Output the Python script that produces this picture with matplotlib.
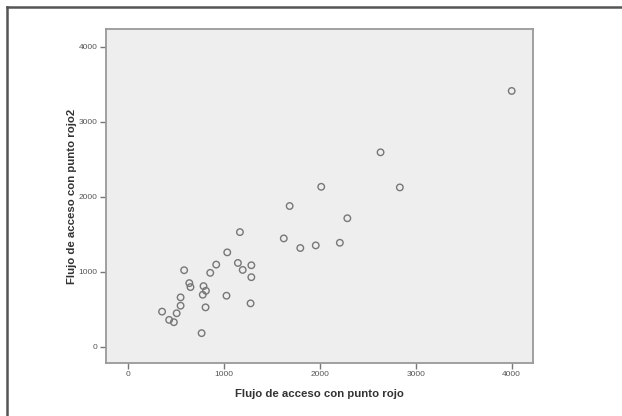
import matplotlib
matplotlib.use("Agg")
import matplotlib.pyplot as plt
from matplotlib.lines import Line2D

# values
flujo_rojo = [4000, 2634, 2016, 2835, 1687, 2288, 1626, 1798, 1959, 2210,
              1169, 1037, 922, 1148, 1288, 1198, 1288, 860, 588, 642,
              654, 790, 815, 782, 1029, 1280, 551, 551, 811, 358,
              510, 432, 481, 770]
flujo_rojo2 = [3410, 2592, 2132, 2124, 1876, 1713, 1444, 1316, 1351, 1386,
               1528, 1258, 1095, 1117, 1086, 1024, 927, 985, 1020, 848,
               795, 808, 746, 693, 680, 578, 658, 547, 525, 468,
               446, 358, 327, 181]
ticks = [0, 1000, 2000, 3000, 4000]

plt.rcParams['font.family'] = ['Liberation Sans', 'DejaVu Sans']

fig = plt.figure(figsize=(6.22, 4.16), dpi=100)
ax = fig.add_axes([106/622, 53/416, 427/622, 334/416])
ax.set_facecolor('#eeeeee')

ax.scatter(flujo_rojo, flujo_rojo2, s=22, facecolors='none',
           edgecolors='#777777', linewidths=1.0, zorder=3)

ax.set_xlim(-226, 4222)
ax.set_ylim(-217, 4236)
ax.set_xticks(ticks)
ax.set_yticks(ticks)
ax.tick_params(direction='out', length=4, width=1, color='#777777',
               labelsize=6, labelcolor='#555555', pad=2)
for s in ax.spines.values():
    s.set_color('#999999')
    s.set_linewidth(1.3)

ax.set_xlabel('Flujo de acceso con punto rojo', fontsize=8.2, fontweight='bold',
              color='#333333', labelpad=8)
ax.set_ylabel('Flujo de acceso con punto rojo2', fontsize=8.2, fontweight='bold',
              color='#333333', labelpad=1)

# outer frame: only top and left edges show in the reference
fig.add_artist(Line2D([7/622, 1], [1 - 7/416, 1 - 7/416], color='#555555', lw=1.8))
fig.add_artist(Line2D([7/622, 7/622], [0, 1 - 7/416], color='#555555', lw=1.8))

fig.savefig('out.png', dpi=100)
